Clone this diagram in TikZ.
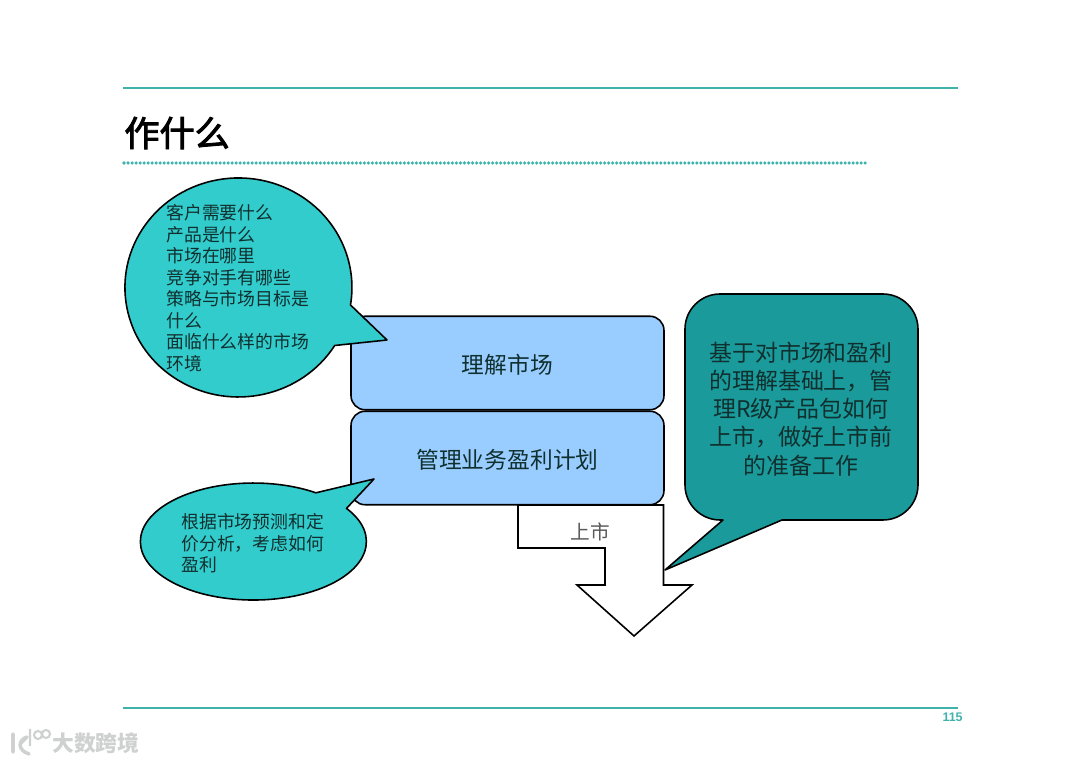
\documentclass[tikz,border=0pt]{standalone}
\usepackage{fontspec}
\usepackage{xcolor}
\setmainfont{Noto Sans CJK SC}
\newfontfamily\latinsans{Liberation Sans}
\newfontfamily\titlefont[FakeBold=2.6]{Noto Sans CJK SC}
\usetikzlibrary{calc,positioning}
\definecolor{tealx}{HTML}{3FB3AB}
\definecolor{cyanx}{HTML}{33CCCC}
\definecolor{deepx}{HTML}{1A9A9A}
\definecolor{bluex}{HTML}{99CCFF}
\definecolor{inkx}{HTML}{10302F}
\definecolor{markx}{HTML}{CFD1D1}
\tikzset{
  rule/.style={draw=tealx,line width=0.65pt},
  bubble/.style={draw=black,line width=0.9pt,line join=round},
  box/.style={draw=black,line width=0.9pt,rounded corners=8pt,fill=bluex,minimum width=6.26cm,minimum height=1.87cm,inner sep=0pt,text=inkx,text height=13pt,font=\fontsize{12.95}{15}\selectfont},
  say/.style={inner sep=0pt,text=inkx,font=\fontsize{10.15}{12.25}\selectfont,align=left},
  bigsay/.style={inner sep=0pt,text=inkx,font=\fontsize{13.05}{16}\selectfont,align=center}
}
\begin{document}
\begin{tikzpicture}[x=0.02cm,y=-0.02cm]
\useasboundingbox (0,0) rectangle (1080,763);
\coordinate (ruleTL) at (123,88);
\coordinate (ruleTR) at (958,88);
\coordinate (ruleBL) at (123,708);
\coordinate (ruleBR) at (958,708);
\coordinate (dotL) at (124,163);
\coordinate (dotR) at (866,163);
\draw[rule] (ruleTL)--(ruleTR);
\draw[rule] (ruleBL)--(ruleBR);
\draw[tealx,line width=2pt,line cap=round,dash pattern=on 0pt off 2.28pt] (dotL)--(dotR);
\node[anchor=west,inner sep=0pt,font=\titlefont\fontsize{20}{24}\selectfont] (title) at (124,133) {作什么};
\node[anchor=east,inner sep=0pt,text=tealx,font=\latinsans\fontsize{7.1}{8}\selectfont\bfseries] (page) at (963,717.5) {115};
% arrow under the boxes
\draw[line width=0.9pt,fill=white,line join=miter] (518,505)--(518,548)--(605,548)--(605,585)--(577,585)--(634,636)--(692,585)--(663.5,585)--(663.5,505)--cycle;
\node[text=black!65,inner sep=0pt,font=\fontsize{11.2}{13}\selectfont] (launch) at (590,532) {上市};
% boxes
\node[box] (market) at (507.5,363) {理解市场};
\node[box] (plan) at (507.5,458) {管理业务盈利计划};
% bubbles
\draw[bubble,fill=cyanx] (350.5,305)--(387,340)--(334.7,345.5) arc[start angle=32,end angle=369.2,x radius=113.5,y radius=109.5]--cycle;
\node[say,anchor=west] (ask) at (166,288) {客户需要什么\\产品是什么\\市场在哪里\\竞争对手有哪些\\策略与市场目标是\\什么\\面临什么样的市场\\环境};
\draw[bubble,fill=cyanx] (346.5,508.4) arc[start angle=-34.5,end angle=303.6,x radius=113,y radius=58.5]--(374,479)--cycle;
\node[say,anchor=west] (profit) at (181,543.5) {根据市场预测和定\\价分析，考虑如何\\盈利};
\draw[bubble,fill=deepx] (723,520) [rounded corners=20pt] --(685,520)--(685,294)--(918,294)--(918,520)--(820,520) [sharp corners] --(782,520)--(665,570)--cycle;
\node[bigsay] (launchSay) at (801,409) {基于对市场和盈利\\的理解基础上，管\\理R级产品包如何\\上市，做好上市前\\的准备工作};
% watermark
\node[anchor=west,inner sep=0pt,text=markx,font=\fontsize{12.4}{15}\selectfont\bfseries] (mark) at (52,743) {大数跨境};
\draw[markx,line width=2pt,line cap=round] (13,734)--(13,752) (27,737)..controls (18,740) and (17,750) ..(29,754) (20,744)--(27,737);
\draw[markx,line width=1.2pt] (30,729)--(30,746) (38,735) circle (4) (46,734) circle (4);
\end{tikzpicture}
\end{document}
